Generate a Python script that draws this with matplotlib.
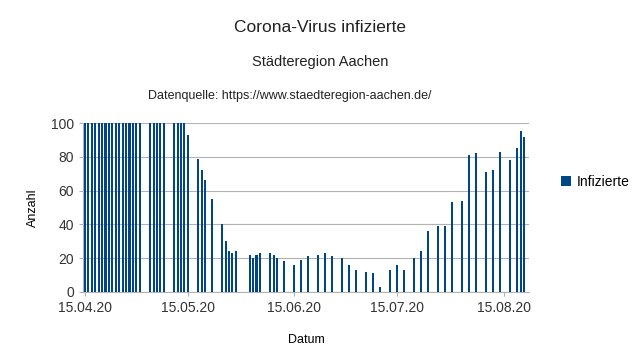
import matplotlib
matplotlib.use("Agg")
import matplotlib.pyplot as plt
import matplotlib.dates as mdates
from datetime import datetime, timedelta

# Meldetage (gelesen aus dem Bild) und aktuelle Infizierte
datum = [
    "15.04.20", "16.04.20", "17.04.20", "18.04.20", "19.04.20", "20.04.20",
    "21.04.20", "22.04.20", "23.04.20", "24.04.20", "25.04.20", "26.04.20",
    "27.04.20", "28.04.20", "29.04.20", "30.04.20", "01.05.20",
    "04.05.20", "05.05.20", "06.05.20", "07.05.20", "08.05.20",
    "11.05.20", "12.05.20", "13.05.20", "14.05.20", "15.05.20",
    "18.05.20", "19.05.20", "20.05.20", "22.05.20",
    "25.05.20", "26.05.20", "27.05.20", "28.05.20", "29.05.20",
    "02.06.20", "03.06.20", "04.06.20", "05.06.20",
    "08.06.20", "09.06.20", "10.06.20", "12.06.20",
    "15.06.20", "17.06.20", "19.06.20", "22.06.20", "24.06.20", "26.06.20",
    "29.06.20", "01.07.20", "03.07.20", "06.07.20", "08.07.20", "10.07.20",
    "13.07.20", "15.07.20", "17.07.20", "20.07.20", "22.07.20", "24.07.20",
    "27.07.20", "29.07.20", "31.07.20", "03.08.20", "05.08.20", "07.08.20",
    "10.08.20", "12.08.20", "14.08.20", "17.08.20", "19.08.20", "20.08.20",
    "21.08.20",
]
infizierte = [
    100, 100, 100, 100, 100, 100,
    100, 100, 100, 100, 100, 100,
    100, 100, 100, 100, 100,
    100, 100, 100, 100, 100,
    100, 100, 100, 100, 93,
    79, 72, 66, 55,
    40, 30, 24, 23, 24,
    22, 20, 22, 23,
    23, 22, 20, 18,
    16, 19, 21, 22, 23, 21,
    20, 16, 13, 12, 11, 3,
    13, 16, 13, 20, 24, 36,
    39, 39, 53, 54, 81, 82,
    71, 72, 83, 78, 85, 95,
    92,
]
xticks = ["15.04.20", "15.05.20", "15.06.20", "15.07.20", "15.08.20"]

x = [datetime.strptime(d, "%d.%m.%y") for d in datum]
xt = [datetime.strptime(d, "%d.%m.%y") for d in xticks]

plt.rcParams['font.family'] = ['Liberation Sans', 'DejaVu Sans']

fig = plt.figure(figsize=(6.4, 3.63), dpi=100)
ax = fig.add_axes([0.130, 0.196, 0.697, 0.465])

ax.bar(x, infizierte, width=0.6, color="#004586", label="Infizierte", zorder=3)

start = x[0]
ax.set_xlim(start - timedelta(days=0.5), start + timedelta(days=129.5))
ax.set_ylim(0, 100)
ax.set_yticks(range(0, 101, 20))
ax.set_xticks(xt)
ax.xaxis.set_major_formatter(mdates.DateFormatter("%d.%m.%y"))
ax.tick_params(axis="both", labelsize=10, length=3, color="#b3b3b3", labelcolor="#333333")

ax.grid(axis="y", color="#b3b3b3", linewidth=0.8, zorder=0)
for s in ["top", "right"]:
    ax.spines[s].set_visible(False)
for s in ["left", "bottom"]:
    ax.spines[s].set_color("#b3b3b3")

ax.set_xlabel("Datum", fontsize=9, labelpad=14)
ax.set_ylabel("Anzahl", fontsize=9, labelpad=9)

fig.text(0.5, 0.925, "Corona-Virus infizierte", ha="center", va="center", fontsize=12.5, color="#222222")
fig.text(0.5, 0.829, "Städteregion Aachen", ha="center", va="center", fontsize=10.5, color="#222222")
fig.text(0.453, 0.736, "Datenquelle: https://www.staedteregion-aachen.de/", ha="center", va="center", fontsize=9, color="#222222")

fig.legend(loc="center left", bbox_to_anchor=(0.857, 0.50), frameon=False, fontsize=10,
           handlelength=0.7, handleheight=0.7, handletextpad=0.4)

fig.savefig("out.png", dpi=100)
